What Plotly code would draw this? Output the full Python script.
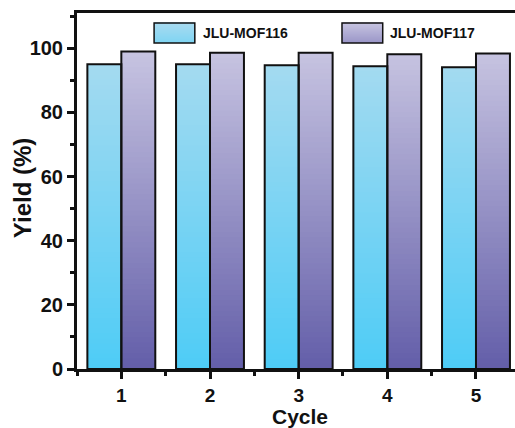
import plotly.graph_objects as go

# Data
cycles = [1, 2, 3, 4, 5]
yield_mof116 = [95.0, 95.0, 94.7, 94.4, 94.1]
yield_mof117 = [99.0, 98.6, 98.6, 98.1, 98.4]
series_names = ["JLU-MOF116", "JLU-MOF117"]

# Vertical gradient end colours (top, bottom) for each series
grad_116 = ((168, 219, 240), (77, 204, 246))
grad_117 = ((199, 196, 225), (98, 93, 168))

BAR_W = 0.383
N_STEPS = 60
Y_TOP = 111
INK = "#111111"
FONT = "Liberation Sans, Arial"


def mix(c_top, c_bot, t):
    """t = 1 at the top colour, 0 at the bottom colour."""
    r = [round(b + (a - b) * t) for a, b in zip(c_top, c_bot)]
    return f"rgb({r[0]},{r[1]},{r[2]})"


def gradient_bar(xs, values, grad, offset):
    # Overlapping bars, tallest first, each shorter one drawn on top,
    # so the fill shades from the top colour down to the bottom colour.
    gx, gy, gc = [], [], []
    for x, v in zip(xs, values):
        for k in range(N_STEPS):
            h = v * (1 - k / N_STEPS)
            gx.append(x)
            gy.append(h)
            gc.append(mix(grad[0], grad[1], h / 100))
    return go.Bar(
        x=gx, y=gy, width=BAR_W, offset=offset,
        marker=dict(color=gc, line=dict(width=0)),
        hoverinfo="skip", showlegend=False,
    )


def outline_bar(xs, values, offset, name):
    return go.Bar(
        x=xs, y=values, width=BAR_W, offset=offset, name=name,
        marker=dict(color="rgba(0,0,0,0)", line=dict(color=INK, width=2)),
        showlegend=False,
    )


fig = go.Figure()
fig.add_trace(gradient_bar(cycles, yield_mof116, grad_116, -BAR_W))
fig.add_trace(gradient_bar(cycles, yield_mof117, grad_117, 0))
fig.add_trace(outline_bar(cycles, yield_mof116, -BAR_W, series_names[0]))
fig.add_trace(outline_bar(cycles, yield_mof117, 0, series_names[1]))

# Legend drawn by hand: gradient swatch + label
shapes = []
annotations = []
legend_items = [
    (series_names[0], grad_116, 0.176, 0.269, 0.283),
    (series_names[1], grad_117, 0.605, 0.698, 0.711),
]
y0, y1 = 0.916, 0.972
n_sw = 20
for name, grad, sx0, sx1, tx in legend_items:
    for k in range(n_sw):
        a = y0 + (y1 - y0) * k / n_sw
        b = y0 + (y1 - y0) * (k + 1) / n_sw
        t = (k + 0.5) / n_sw
        shapes.append(dict(type="rect", xref="paper", yref="paper",
                           x0=sx0, x1=sx1, y0=a, y1=b + 0.002,
                           fillcolor=mix(grad[0], grad[1], 0.55 + 0.45 * t),
                           line=dict(width=0), layer="above"))
    shapes.append(dict(type="rect", xref="paper", yref="paper",
                       x0=sx0, x1=sx1, y0=y0, y1=y1,
                       fillcolor="rgba(0,0,0,0)",
                       line=dict(color=INK, width=1.5), layer="above"))
    annotations.append(dict(text=f"<b>{name}</b>", xref="paper", yref="paper",
                            x=tx, y=(y0 + y1) / 2, xanchor="left", yanchor="middle",
                            showarrow=False,
                            font=dict(family=FONT, size=14, color=INK)))

# Axis titles
annotations.append(dict(text="<b>Cycle</b>", xref="paper", yref="paper",
                        x=0.508, y=-0.1334, xanchor="center", yanchor="middle",
                        showarrow=False, font=dict(family=FONT, size=21, color=INK)))
annotations.append(dict(text="<b>Yield (%)</b>", xref="paper", yref="paper",
                        x=-0.1256, y=0.508, xanchor="center", yanchor="middle",
                        textangle=-90, showarrow=False,
                        font=dict(family=FONT, size=24, color=INK)))

fig.update_layout(
    width=515, height=428,
    margin=dict(l=77, r=0, t=13, b=59),
    paper_bgcolor="white", plot_bgcolor="white",
    barmode="overlay",
    shapes=shapes, annotations=annotations,
    showlegend=False,
)
fig.update_xaxes(
    range=[0.5, 5.44], tickmode="array", tickvals=cycles,
    ticktext=[f"<b>{c}</b>" for c in cycles],
    tickfont=dict(family=FONT, size=19, color=INK),
    ticks="outside", ticklen=7, tickwidth=3, tickcolor=INK,
    minor=dict(dtick=0.5, tick0=0.5, ticks="outside", ticklen=4, tickwidth=3, tickcolor=INK),
    showline=True, linewidth=3, linecolor=INK, mirror=True,
    showgrid=False, zeroline=False,
)
fig.update_yaxes(
    range=[0, Y_TOP], tickmode="linear", tick0=0, dtick=20,
    tickfont=dict(family=FONT, size=20, color=INK), tickprefix="<b>", ticksuffix="</b>",
    ticks="outside", ticklen=7, tickwidth=3, tickcolor=INK,
    minor=dict(dtick=10, ticks="outside", ticklen=4, tickwidth=3, tickcolor=INK),
    showline=True, linewidth=3, linecolor=INK,
    showgrid=False, zeroline=False,
)

fig.write_html("out.html")
